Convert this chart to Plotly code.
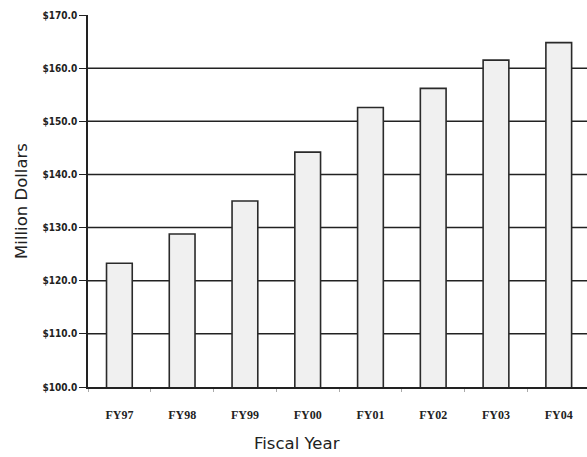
import plotly.graph_objects as go

categories = ["FY97", "FY98", "FY99", "FY00", "FY01", "FY02", "FY03", "FY04"]
values = [123.3, 128.8, 135.0, 144.2, 152.6, 156.2, 161.5, 164.8]
y_ticks = [100, 110, 120, 130, 140, 150, 160, 170]
y_tick_labels = ["$100.0", "$110.0", "$120.0", "$130.0", "$140.0", "$150.0", "$160.0", "$170.0"]
grid_values = [110, 120, 130, 140, 150, 160]
x_title = "Fiscal Year"
y_title = "Million Dollars"

fig = go.Figure()
fig.add_trace(go.Bar(
    x=categories, y=values, base=0,
    width=0.41,
    marker=dict(color="#f0f0f0", line=dict(color="#2a2a2a", width=1.6)),
))

for g in grid_values:
    fig.add_shape(type="line", xref="paper", yref="y", x0=0, x1=1, y0=g, y1=g,
                  line=dict(color="#222222", width=1.5), layer="below")

fig.add_annotation(text=x_title, xref="paper", yref="paper", x=0.419, y=-0.152,
                   xanchor="center", yanchor="middle", showarrow=False,
                   font=dict(family="DejaVu Sans", size=16.5, color="#222222"))

fig.update_layout(
    width=587, height=457,
    margin=dict(l=88, r=0, t=15, b=70),
    paper_bgcolor="white", plot_bgcolor="white",
    showlegend=False,
    xaxis=dict(
        type="category",
        range=[-0.5, 7.45],
        showgrid=False, zeroline=False,
        showline=True, linecolor="#222222", linewidth=1.5,
        ticks="outside", tickson="boundaries", ticklen=3, tickcolor="#aaaaaa",
        ticklabelstandoff=16,
        tickfont=dict(family="Liberation Serif", size=12, color="#222222", weight="bold"),
    ),
    yaxis=dict(
        range=[100, 170],
        tickmode="array",
        tickvals=y_ticks, ticktext=y_tick_labels,
        showgrid=False, zeroline=False,
        showline=True, linecolor="#222222", linewidth=1.5,
        ticks="outside", ticklen=7, tickcolor="#222222",
        tickfont=dict(family="DejaVu Sans Condensed, DejaVu Sans", size=10, color="#222222", weight="bold"),
        title=dict(text=y_title, font=dict(family="DejaVu Sans", size=16.5, color="#222222"), standoff=11),
    ),
)
fig.write_html("out.html",
               config={"displayModeBar": False},
               post_script="document.body.style.margin='0';document.body.style.overflow='hidden';")
